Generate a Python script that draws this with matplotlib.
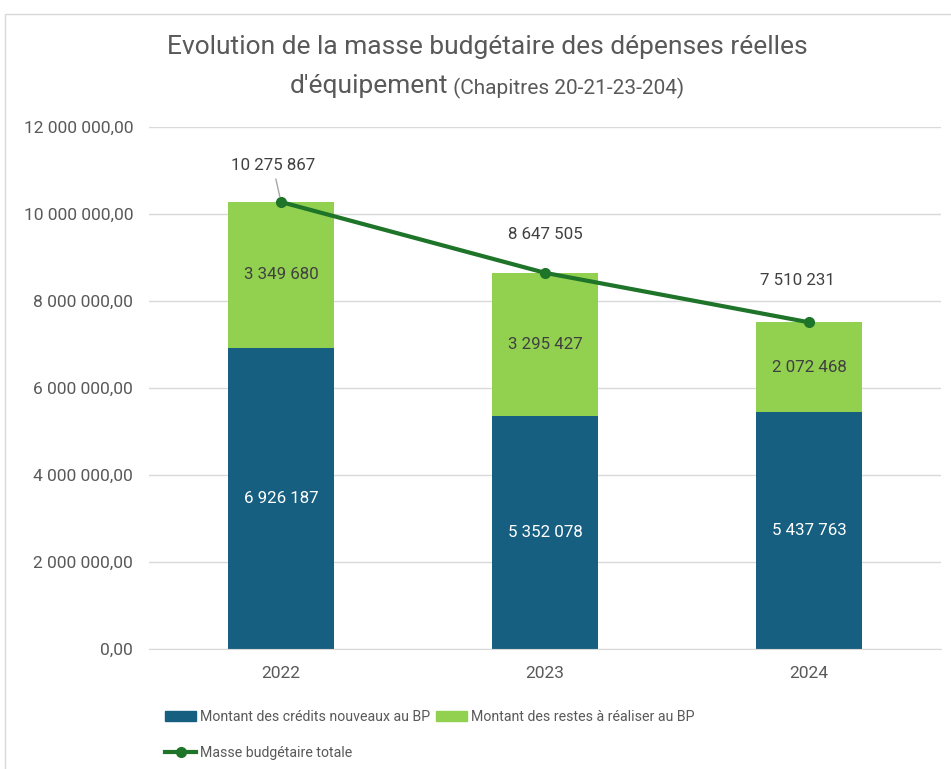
import numpy as np
import matplotlib.pyplot as plt
from matplotlib.patches import Rectangle
from matplotlib.lines import Line2D

plt.rcParams['font.family'] = ['Roboto', 'DejaVu Sans']

annees = ['2022', '2023', '2024']
credits_nouveaux = [6926187, 5352078, 5437763]
restes_a_realiser = [3349680, 3295427, 2072468]
masse_totale = [10275867, 8647505, 7510231]
yticks = [0, 2000000, 4000000, 6000000, 8000000, 10000000, 12000000]

BLEU = '#175f80'
VERT = '#92d050'
VERT_FONCE = '#1e7428'
GRIS = '#595959'


def fmt(v):
    '''format français : espaces pour les milliers'''
    return f'{v:,.0f}'.replace(',', ' ')


fig = plt.figure(figsize=(9.51, 7.69), dpi=100)
# cadre du graphique
fig.patches.append(Rectangle((5 / 951, -0.01), 1.0, (769 - 14) / 769 + 0.01,
                             transform=fig.transFigure, fill=False,
                             edgecolor='#d9d9d9', linewidth=1))

ax = fig.add_axes([149 / 951, 1 - 649 / 769, 792 / 951, 522 / 769])
x = np.arange(len(annees))
largeur = 0.4

ax.bar(x, credits_nouveaux, largeur, color=BLEU, zorder=2)
ax.bar(x, restes_a_realiser, largeur, bottom=credits_nouveaux, color=VERT, zorder=2)
ax.plot(x, masse_totale, color=VERT_FONCE, linewidth=3, marker='o', markersize=7, zorder=3)

# étiquettes des barres
for i in range(len(annees)):
    ax.text(x[i], credits_nouveaux[i] / 2, fmt(credits_nouveaux[i]), ha='center',
            va='center', color='white', fontsize=12.2)
    ax.text(x[i], credits_nouveaux[i] + restes_a_realiser[i] / 2, fmt(restes_a_realiser[i]),
            ha='center', va='center', color='#404040', fontsize=12.2)

# étiquettes de la ligne
decalages = [(-8, 36), (0, 38), (-12, 42)]
for i in range(len(annees)):
    props = None
    if i == 0:
        props = dict(arrowstyle='-', color='#a6a6a6', lw=1, shrinkA=2, shrinkB=4)
    ax.annotate(fmt(masse_totale[i]), (x[i], masse_totale[i]), xytext=decalages[i],
                textcoords='offset pixels', ha='center', va='center', color='#404040',
                fontsize=12.2, arrowprops=props)

ax.set_xlim(-0.5, 2.5)
ax.set_ylim(0, 12000000)
ax.set_yticks(yticks)
ax.set_yticklabels([f'{fmt(v)},00' for v in yticks])
ax.set_xticks(x)
ax.set_xticklabels(annees)
ax.tick_params(axis='both', length=0, colors=GRIS, labelsize=12.5)
ax.tick_params(axis='y', pad=11.5)
ax.tick_params(axis='x', pad=12.5)
ax.grid(axis='y', color='#d9d9d9', linewidth=1, zorder=0)
ax.set_axisbelow(True)
for s in ['top', 'right', 'left']:
    ax.spines[s].set_visible(False)
ax.spines['bottom'].set_color('#d9d9d9')

# titre
xc = 487 / 951
fig.text(xc, 1 - 47 / 769, 'Evolution de la masse budgétaire des dépenses réelles',
         ha='center', va='center', fontsize=19, color=GRIS)
t1 = fig.text(xc, 1 - 86 / 769, "d'équipement", ha='right', va='center',
              fontsize=19, color=GRIS)
t2 = fig.text(xc, 1 - 88 / 769, ' (Chapitres 20-21-23-204)', ha='left', va='center',
              fontsize=15, color=GRIS)
# recentrer la deuxième ligne du titre
fig.canvas.draw()
r = fig.canvas.get_renderer()
w1 = t1.get_window_extent(r).width
w2 = t2.get_window_extent(r).width
dx = (w1 - w2) / 2 / 951
t1.set_x(xc + dx)
t2.set_x(xc + dx)

poignees = [Rectangle((0, 0), 1, 1, color=BLEU),
            Line2D([], [], color=VERT_FONCE, lw=3, marker='o', markersize=7),
            Rectangle((0, 0), 1, 1, color=VERT)]
noms = ['Montant des crédits nouveaux au BP', 'Masse budgétaire totale',
        'Montant des restes à réaliser au BP']
fig.legend(poignees, noms, ncol=2, loc='upper left', bbox_to_anchor=(165 / 951, 1 - 710 / 769),
           frameon=False, fontsize=10.2, labelcolor=GRIS,
           handlelength=2.2, handleheight=0.7, handletextpad=0.3, columnspacing=0.35,
           labelspacing=1.55, borderpad=0, borderaxespad=0)

fig.savefig('out.png', dpi=100)
